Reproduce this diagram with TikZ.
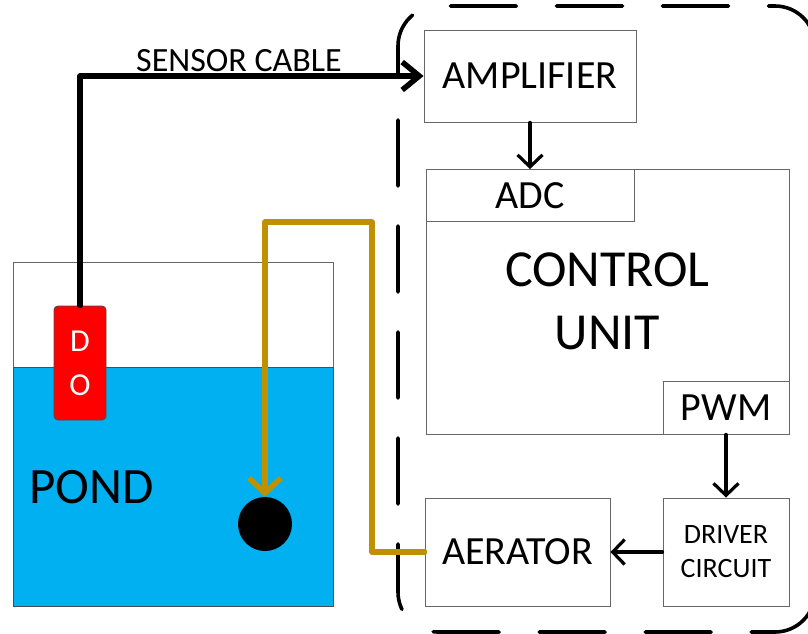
\documentclass[tikz,border=0pt]{standalone}
\usepackage{fontspec}
\setmainfont{Carlito}
\usepackage{tikz}
\usetikzlibrary{arrows.meta,positioning}
\definecolor{water}{HTML}{00B0F0}
\definecolor{hosegold}{HTML}{BF9000}
\definecolor{probered}{HTML}{FF0000}
\newcommand{\fsz}[2]{\fontsize{#1}{#2}\selectfont}

\begin{document}
\begin{tikzpicture}[
      x=1pt, y=-1pt,
      box/.style={draw=black!60, line width=0.9pt, fill=white, inner sep=0pt, align=center, font=\fsz{40}{48}},
      probe/.style={rounded corners=4pt, draw=black!70, line width=0.9pt, fill=probered, text=white,
                    minimum width=52pt, minimum height=114pt, inner sep=0pt, align=center, font=\fsz{32}{44}},
      arr/.style={-{Straight Barb[length=12pt, width=25pt]}, line width=3.2pt, line cap=round},
      cable/.style={-{Straight Barb[length=17pt, width=28pt]}, line width=5.5pt, line cap=round, line join=round},
      hose/.style={-{Straight Barb[length=15pt, width=32pt]}, hosegold, line width=5.5pt, line cap=round, line join=round},
      unitline/.style={line width=3.6pt, line cap=round, dash pattern=on 66pt off 40pt, dash phase=66pt, rounded corners=40pt}
    ]
    \useasboundingbox (0,0) rectangle (808,633);
    \clip (0,0) rectangle (808,633);

    % pond with water
    \node[draw=black!60, line width=0.9pt, minimum width=320pt, minimum height=344pt, inner sep=0pt] (pond) at (173,434) {};
    \draw[fill=water, draw=black!70, line width=0.9pt] (13,367) rectangle (333,606);
    \node[font=\fsz{51}{60}, anchor=base west, inner sep=0pt] (pondlbl) at (29,503) {POND};
    \node[circle, fill=black, minimum size=54pt, inner sep=0pt] (ball) at (265,524) {};
    \node[probe] (do) at (80,363) {D\\O};

    % controller border
    \draw[unitline] (398,80) -- (398,632) -- (815,632) -- (815,6) -- (398,6) -- (398,80);

    % blocks
    \node[box, minimum width=212pt, minimum height=92pt] (amp) at (530,76) {AMPLIFIER};
    \node[box, minimum width=363pt, minimum height=265pt, font=\fsz{52}{63}] (cu) at (607.5,301.5) {CONTROL\\UNIT};
    \node[box, minimum width=208pt, minimum height=52pt] (adc) at (530,195.5) {ADC};
    \node[box, minimum width=126pt, minimum height=53pt] (pwm) at (726,407.5) {PWM};
    \node[box, minimum width=126pt, minimum height=108pt, font=\fsz{28}{34}] (drv) at (726,552) {DRIVER\\CIRCUIT};
    \node[box, minimum width=185pt, minimum height=108pt] (aer) at (517.5,552) {AERATOR};

    % connections
    \node[font=\fsz{34}{40}, anchor=base, inner sep=0pt] (cablelbl) at (239,71) {SENSOR CABLE};
    \draw[cable] (do.north) |- (amp.west);
    \coordinate (bend) at (372,222);
    \draw[hose] (aer.west) -| (bend) -| (ball.north);
    \draw[arr] (amp.south) -- (adc.north);
    \draw[arr] (pwm.south) -- (drv.north);
    \draw[arr] (drv.west) -- (aer.east);
  \end{tikzpicture}
\end{document}
